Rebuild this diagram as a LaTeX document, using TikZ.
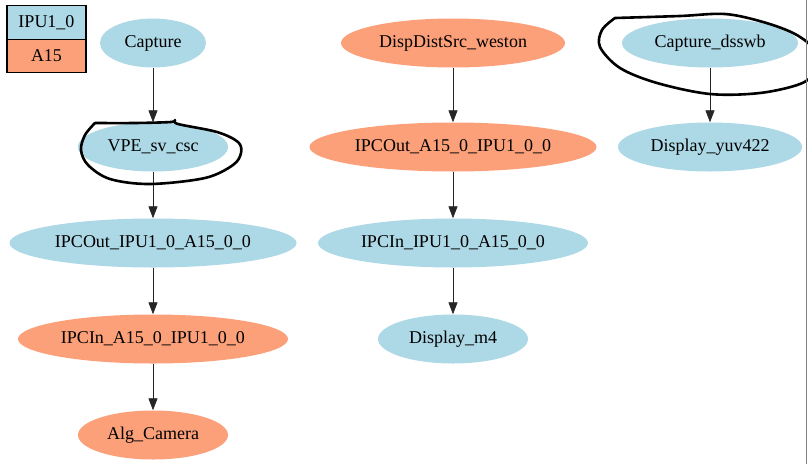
\documentclass[tikz,border=0pt]{standalone}
\usepackage{fontspec}
\newfontfamily\graphfont{Liberation Serif}
\usetikzlibrary{shapes.geometric,arrows.meta}
\definecolor{ipucol}{RGB}{173,216,230}
\definecolor{acol}{RGB}{252,160,122}
\begin{document}
\begin{tikzpicture}[x=1pt,y=-1pt,
  font=\graphfont\fontsize{18}{20}\selectfont,
  ipu/.style={ellipse,fill=ipucol,minimum height=49pt,inner sep=0pt,minimum width=#1},
  afif/.style={ellipse,fill=acol,minimum height=49pt,inner sep=0pt,minimum width=#1},
  legbox/.style={rectangle,draw=black,line width=1.2pt,minimum width=79pt,minimum height=33.5pt,inner sep=0pt},
  link/.style={-{Triangle[length=12pt,width=9pt]},line width=0.8pt,black!85},
  scribble/.style={line width=2.6pt,line join=round,line cap=round}]
\useasboundingbox (0,0) rectangle (808,474);
\clip (0,0) rectangle (808,474);
% legend
\node[legbox,fill=ipucol] (legipu) at (46.5,22.5) {IPU1\_0};
\node[legbox,fill=acol] (lega) at (46.5,56) {A15};
% left chain
\node[ipu=106pt] (cap) at (153,43) {Capture};
\node[ipu=150pt] (vpe) at (153,147) {VPE\_sv\_csc};
\node[ipu=287pt] (ipcout1) at (153,243) {IPCOut\_IPU1\_0\_A15\_0\_0};
\node[afif=270pt] (ipcin1) at (153,339) {IPCIn\_A15\_0\_IPU1\_0\_0};
\node[afif=150pt] (alg) at (153,435) {Alg\_Camera};
% middle chain
\node[afif=224pt] (disp) at (453,43) {DispDistSrc\_weston};
\node[afif=287pt] (ipcout2) at (453,147) {IPCOut\_A15\_0\_IPU1\_0\_0};
\node[ipu=270pt] (ipcin2) at (453,243) {IPCIn\_IPU1\_0\_A15\_0\_0};
\node[ipu=150pt] (dispm4) at (453,339) {Display\_m4};
% right chain
\node[ipu=176pt] (capdss) at (710,43) {Capture\_dsswb};
\node[ipu=184pt] (dispyuv) at (710,147) {Display\_yuv422};
\draw[link] (cap) -- (vpe); \draw[link] (vpe) -- (ipcout1); \draw[link] (ipcout1) -- (ipcin1); \draw[link] (ipcin1) -- (alg);
\draw[link] (disp) -- (ipcout2); \draw[link] (ipcout2) -- (ipcin2); \draw[link] (ipcin2) -- (dispm4);
\draw[link] (capdss) -- (dispyuv);
% hand drawn marks
\draw[scribble] plot[smooth,tension=0.55] coordinates {(95,123) (135,123) (171,122) (175,120) (178,124) (217,132) (238,142) (241,153) (233,165) (205,178) (150,184) (110,179) (88,165) (81,150) (85,135) (95,123)};
\draw[scribble] plot[smooth,tension=0.55] coordinates {(615,18) (680,16) (725,14) (763,22) (795,34) (814,50) (814,72) (800,84) (760,93) (710,94) (657,83) (620,68) (600,47) (602,30) (615,18)};
\draw[gray,line width=1.5pt] (806.5,0) -- (806.5,464);
\end{tikzpicture}
\end{document}
